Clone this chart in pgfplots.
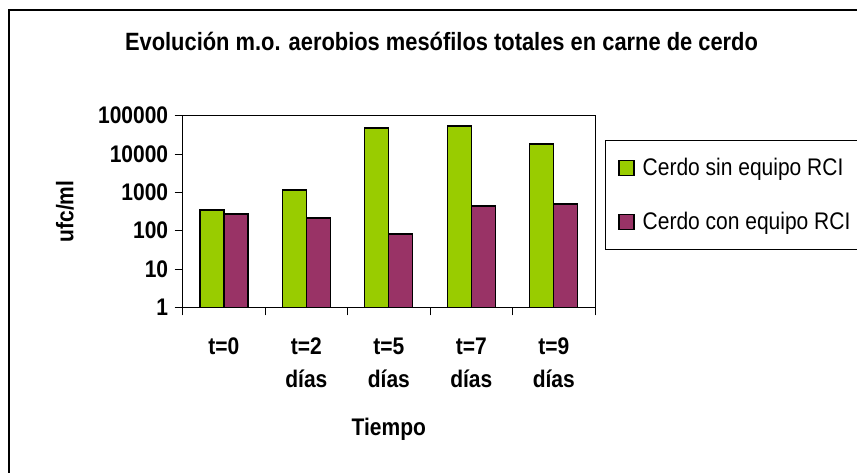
\documentclass[border=0pt]{standalone}
\usepackage{fontspec}
\setmainfont{Liberation Sans}[FakeStretch=0.875]
\usepackage{pgfplots}
\pgfplotsset{compat=1.18}
\definecolor{cgreen}{HTML}{99CC00}
\definecolor{cpurple}{HTML}{993366}
\pgfplotsset{sqlegend/.style={legend image code/.code={\draw[##1,line width=1.2pt] (0pt,-7.5pt) rectangle (15pt,7.5pt); \path (21pt,0pt);}}}
\begin{document}
\begin{tikzpicture}
\useasboundingbox (0pt,0pt) rectangle (857pt,472pt);
\clip (0pt,0pt) rectangle (857pt,472pt);
\draw[line width=1.2pt] (9pt,-20pt) -- (9pt,462pt) -- (880pt,462pt);
\begin{axis}[
  at={(182.7pt,164.7pt)}, anchor=south west,
  scale only axis, width=412.3pt, height=191.6pt,
  ymode=log, ymin=1, ymax=100000, xmin=-0.5, xmax=4.5,
  ybar=0pt, bar width=24pt,
  axis line style={black, line width=0.9pt},
  ytick={1,10,100,1000,10000,100000},
  yticklabels={1,10,100,1000,10000,100000},
  xtick={-0.5,0.5,1.5,2.5,3.5,4.5}, xticklabels={},
  extra x ticks={0,1,2,3,4},
  extra x tick labels={{t=0},{t=2\\días},{t=5\\días},{t=7\\días},{t=9\\días}},
  extra x tick style={major tick length=0pt, xticklabel style={anchor=north, yshift=-27pt}},
  xtick pos=bottom, ytick pos=left,
  tick align=outside, major tick length=8pt,
  tick style={black, line width=0.8pt},
  yminorticks=false,
  ticklabel style={font=\bfseries\fontsize{24}{33}\selectfont},
  xticklabel style={align=center},
  yticklabel style={xshift=-3pt},
  /pgf/number format/assume math mode=true,
  title={Evolución m.o. aerobios mesófilos totales en carne de cerdo},
  title style={font=\bfseries\fontsize{25}{30}\selectfont, at={(axis description cs:0.6277,1.311)}, anchor=base},
  xlabel={Tiempo},
  xlabel style={font=\bfseries\fontsize{24}{28}\selectfont, at={(axis description cs:0.5,-0.6665)}, anchor=base},
  ylabel={ufc/ml},
  ylabel style={font=\bfseries\fontsize{24}{28}\selectfont, at={(axis description cs:-0.2855,0.5)}, anchor=center},
  legend style={at={(1.0243,0.873)}, anchor=north west, draw=black, line width=0.8pt,
    font=\fontsize{24}{28}\selectfont, row sep=31pt, inner xsep=13pt, inner ysep=16pt,
    legend cell align=left},
]
\addplot[sqlegend, fill=cgreen, draw=black, line width=1.3pt]
  coordinates {(0,347) (1,1155) (2,48000) (3,54000) (4,18400)};
\addlegendentry{Cerdo sin equipo RCI}
\addplot[sqlegend, fill=cpurple, draw=black, line width=1.3pt]
  coordinates {(0,273) (1,215) (2,82) (3,442) (4,498)};
\addlegendentry{Cerdo con equipo RCI\hspace{14pt}}
\end{axis}
\end{tikzpicture}
\end{document}
